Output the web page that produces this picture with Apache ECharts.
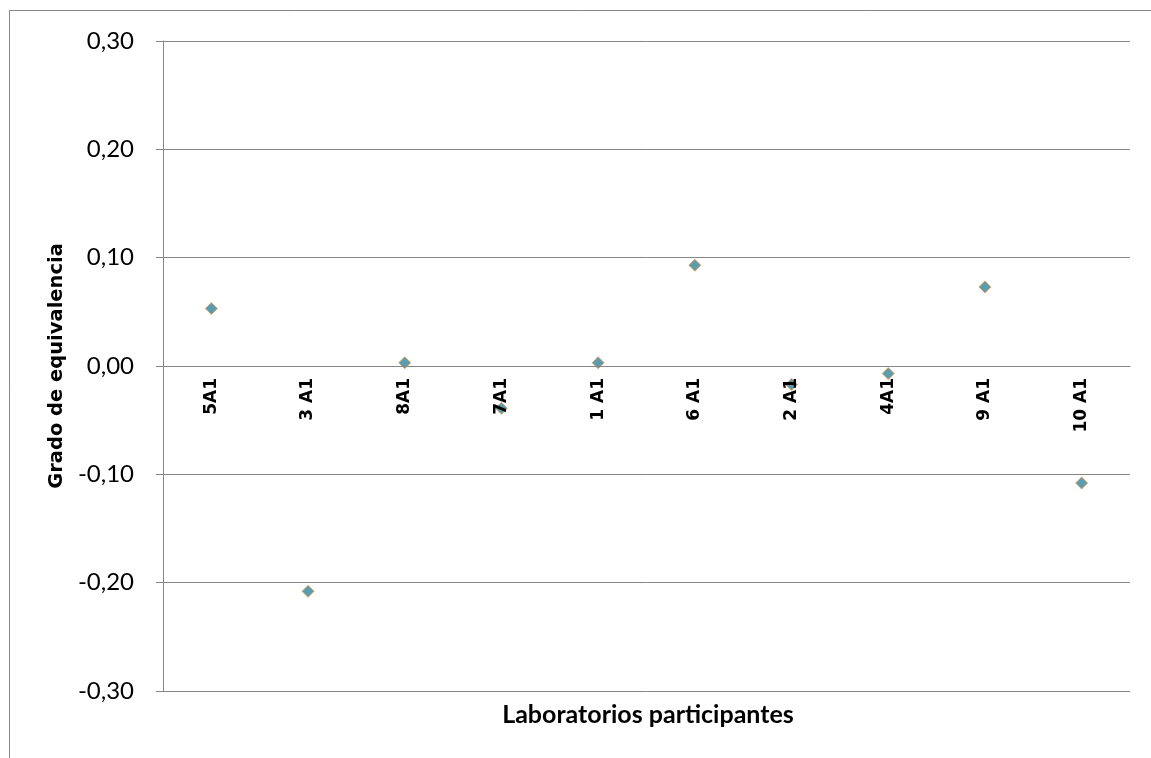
<!DOCTYPE html>
<html>
<head>
<meta charset="utf-8">
<script src="https://cdn.jsdelivr.net/npm/echarts@6/dist/echarts.min.js"></script>
<style>
  * { margin: 0; padding: 0; }
  body { background: #fff; }
</style>
</head>
<body>
<div id="main" style="width: 1151px;height: 758px;"></div>
<script>
  // laboratorios y grado de equivalencia
  var laboratorios = ['5A1', '3 A1', '8A1', '7A1', '1 A1', '6 A1', '2 A1', '4A1', '9 A1', '10 A1'];
  var grado = [0.053, -0.208, 0.003, -0.039, 0.003, 0.093, -0.017, -0.007, 0.073, -0.108];
  var yTicks = { min: -0.3, max: 0.3, interval: 0.1 };

  var gris = '#868686';
  var calibri = 'Lato';
  var verdana = 'DejaVu Sans';

  var gridTop = 41, gridBottom = 67, altura = 758;
  // el eje de categorias cruza en 0 (mitad del area de trazado)
  var alturaPlot = altura - gridTop - gridBottom;
  var desplazamiento = -alturaPlot * (0 - yTicks.min) / (yTicks.max - yTicks.min);

  var chart = echarts.init(document.getElementById('main'));
  chart.setOption({
    animation: false,
    textStyle: { fontFamily: calibri },
    grid: { left: 163, right: 21, top: gridTop, bottom: gridBottom, outerBoundsMode: 'none', containLabel: false },
    title: {
      text: 'Laboratorios participantes',
      left: 648,
      top: 702,
      padding: 0,
      textAlign: 'center',
      textStyle: { color: '#000', fontWeight: 'bold', fontSize: 25, fontFamily: calibri }
    },
    graphic: [
      {
        type: 'rect',
        shape: { x: 9.5, y: 10.5, width: 1300, height: 900 },
        style: { fill: 'none', stroke: gris, lineWidth: 1 },
        silent: true
      }
    ],
    xAxis: {
      type: 'category',
      data: laboratorios,
      position: 'bottom',
      offset: desplazamiento,
      z: 5,
      axisLine: { onZero: false, lineStyle: { color: gris } },
      axisTick: { show: false },
      axisLabel: {
        interval: 0,
        rotate: 90,
        margin: 12,
        color: '#000',
        fontWeight: 'bold',
        fontSize: 17,
        fontFamily: verdana
      }
    },
    yAxis: {
      type: 'value',
      min: yTicks.min,
      max: yTicks.max,
      interval: yTicks.interval,
      name: 'Grado de equivalencia',
      nameLocation: 'middle',
      nameGap: 93,
      nameTextStyle: { color: '#000', fontWeight: 'bold', fontSize: 19.5, fontFamily: verdana },
      axisLine: { show: true, lineStyle: { color: gris } },
      axisTick: { show: true, length: 7, lineStyle: { color: gris } },
      splitLine: { lineStyle: { color: gris } },
      axisLabel: {
        margin: 29,
        color: '#000',
        fontSize: 24,
        fontFamily: calibri,
        formatter: function (v) { return v.toFixed(2).replace('.', ','); }
      }
    },
    series: [
      {
        type: 'scatter',
        data: grado,
        symbol: 'diamond',
        symbolSize: 12,
        itemStyle: { color: '#31849B', borderColor: '#F79646', borderWidth: 1 }
      }
    ]
  });
</script>
</body>
</html>
